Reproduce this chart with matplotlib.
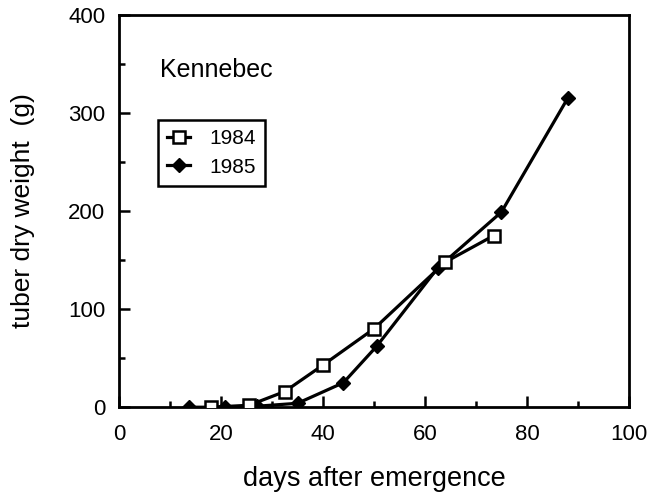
import matplotlib
matplotlib.use('Agg')
import numpy as np
import matplotlib.pyplot as plt
import matplotlib.ticker as mticker

plt.rcParams['font.family'] = ['Liberation Sans', 'DejaVu Sans']

# tuber dry weight, Kennebec
days_1984 = [18, 25.5, 32.5, 40, 50, 64, 73.5]
wt_1984 = [0, 2, 16, 43, 80, 148, 175]
days_1985 = [13.7, 20.8, 27, 35, 44, 50.5, 62.5, 75, 88]
wt_1985 = [0, 0, 1, 4, 25, 62, 142, 199, 315]

fig = plt.figure(figsize=(6.51, 4.96), dpi=100)
ax = fig.add_axes([0.183, 0.179, 0.783, 0.791])

ax.plot(days_1984, wt_1984, color='k', lw=2.3, marker='s', ms=8,
        mfc='white', mec='k', mew=1.8, label='1984', zorder=3)
ax.plot(days_1985, wt_1985, color='k', lw=2.3, marker='D', ms=7,
        mfc='k', mec='k', label='1985', zorder=2)

ax.set_xlim(0, 100)
ax.set_ylim(0, 400)
ax.xaxis.set_major_locator(mticker.MultipleLocator(20))
ax.xaxis.set_minor_locator(mticker.MultipleLocator(10))
ax.yaxis.set_major_locator(mticker.MultipleLocator(100))
ax.yaxis.set_minor_locator(mticker.MultipleLocator(50))
ax.tick_params(which='major', direction='in', length=8, width=1.8,
               labelsize=16)
ax.tick_params(axis='x', which='major', pad=12)
ax.tick_params(axis='y', which='major', pad=10)
ax.tick_params(which='minor', direction='in', length=4, width=1.8)
for s in ax.spines.values():
    s.set_linewidth(2)

ax.set_xlabel('days after emergence', fontsize=19.5, labelpad=15)
ax.set_ylabel('tuber dry weight  (g)', fontsize=19, labelpad=24)

ax.text(0.08, 0.86, 'Kennebec', transform=ax.transAxes, fontsize=18,
        va='center', ha='left')

leg = ax.legend(loc='upper left', bbox_to_anchor=(0.076, 0.732), fontsize=15,
                handlelength=1.1, handletextpad=0.9, fancybox=False,
                edgecolor='k', framealpha=1, borderpad=0.45,
                labelspacing=0.45, borderaxespad=0)
leg.get_frame().set_linewidth(1.8)

fig.savefig('out.png', dpi=100)
